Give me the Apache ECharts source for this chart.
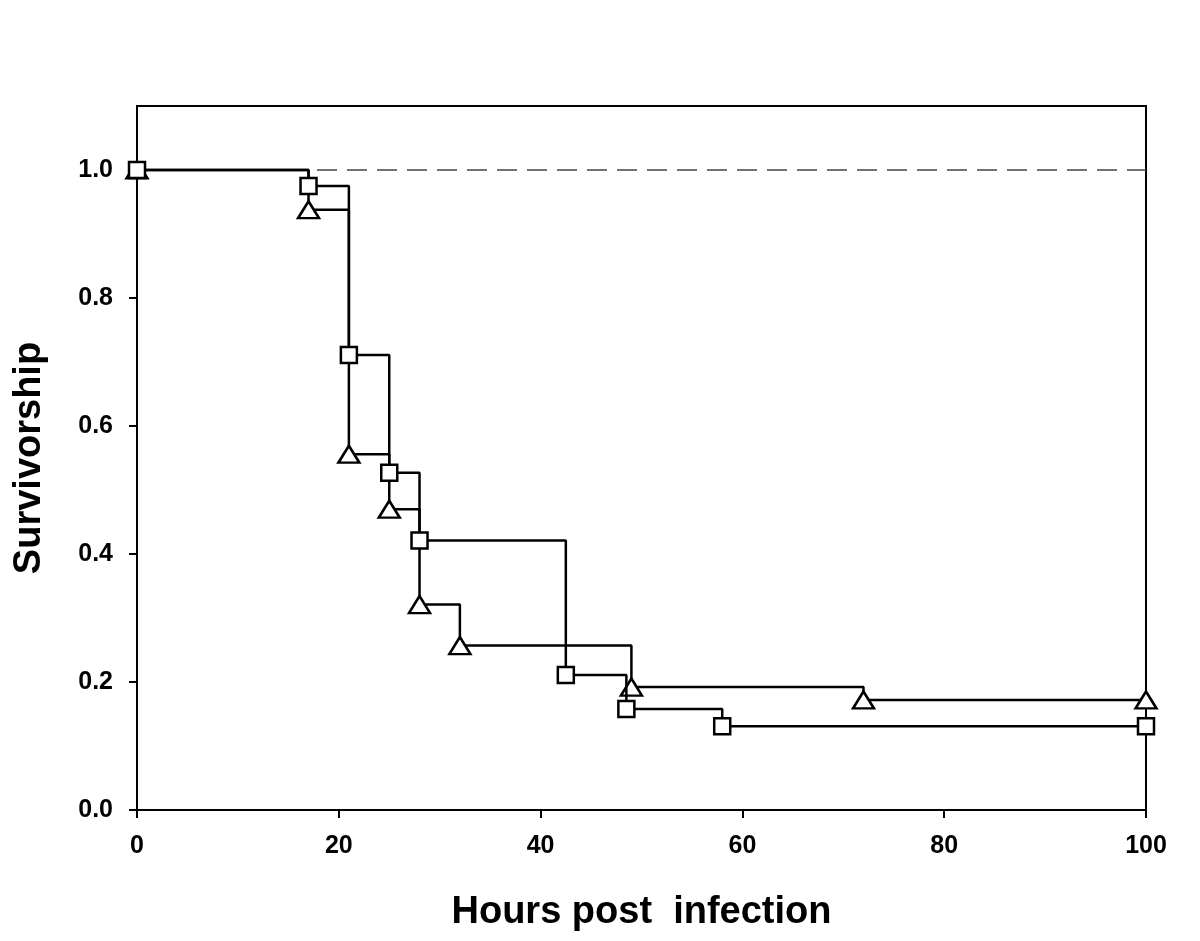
<!DOCTYPE html>
<html>
<head>
<meta charset="utf-8">
<script src="https://cdn.jsdelivr.net/npm/echarts@6/dist/echarts.min.js"></script>
<style>html,body{margin:0;padding:0;background:#fff}#c{width:1200px;height:941px}</style>
</head>
<body>
<div id="c"></div>
<script>
// Square group (Kaplan-Meier, hours, survivorship)
const squareHours = [0, 17, 21, 25, 28, 42.5, 48.5, 58, 100];
const squareSurv  = [1.0, 0.975, 0.711, 0.527, 0.421, 0.211, 0.158, 0.131, 0.131];
// Triangle group
const triHours = [0, 17, 21, 25, 28, 32, 49, 72, 100];
const triSurv  = [1.0, 0.938, 0.556, 0.470, 0.321, 0.257, 0.192, 0.172, 0.172];
// Reference line
const refLevel = 1.0;
const xTicks = [0, 20, 40, 60, 80, 100];
const yTicks = [0, 0.2, 0.4, 0.6, 0.8, 1.0];

const triData = triHours.map((h, i) => [h, triSurv[i]]);
const sqData = squareHours.map((h, i) => [h, squareSurv[i]]);

const font = '"Liberation Sans", Arial, sans-serif';
const chart = echarts.init(document.getElementById('c'), null, {renderer: 'canvas'});
chart.setOption({
  animation: false,
  backgroundColor: '#fff',
  grid: {left: 137, right: 54, top: 106, bottom: 131, outerBoundsMode: 'none', containLabel: false,
    show: true, borderColor: '#000', borderWidth: 2, backgroundColor: 'transparent'},
  xAxis: {
    type: 'value', min: 0, max: 100, interval: 20,
    axisLine: {show: true, lineStyle: {color: '#000', width: 2}},
    axisTick: {show: true, inside: false, length: 8, lineStyle: {color: '#000', width: 2}, customValues: xTicks},
    axisLabel: {color: '#000', fontFamily: font, fontWeight: 'bold', fontSize: 25, margin: 24, customValues: xTicks},
    splitLine: {show: false},
    name: 'Hours post  infection', nameLocation: 'middle', nameGap: 84,
    nameTextStyle: {color: '#000', fontFamily: font, fontWeight: 'bold', fontSize: 38}
  },
  yAxis: {
    type: 'value', min: 0, max: 1.1, interval: 0.2,
    axisLine: {show: true, lineStyle: {color: '#000', width: 2}},
    axisTick: {show: true, inside: false, length: 8, lineStyle: {color: '#000', width: 2}, customValues: yTicks},
    axisLabel: {color: '#000', fontFamily: font, fontWeight: 'bold', fontSize: 25, margin: 24, customValues: yTicks,
      formatter: v => v.toFixed(1)},
    splitLine: {show: false},
    name: 'Survivorship', nameLocation: 'middle', nameGap: 88,
    nameTextStyle: {color: '#000', fontFamily: font, fontWeight: 'bold', fontSize: 38}
  },
  series: [
    {
      type: 'line', data: [[0, refLevel], [100, refLevel]], symbol: 'none', z: 1,
      lineStyle: {color: '#444', width: 1.5, type: [20, 10]}
    },
    {
      type: 'line', data: triData, step: 'end', symbol: 'triangle', symbolSize: [21, 17], z: 3,
      lineStyle: {color: '#000', width: 2.5},
      itemStyle: {color: '#fff', borderColor: '#000', borderWidth: 2.5}
    },
    {
      type: 'line', data: sqData, step: 'end', symbol: 'rect', symbolSize: 16, z: 4,
      lineStyle: {color: '#000', width: 2.5},
      itemStyle: {color: '#fff', borderColor: '#000', borderWidth: 2.5}
    }
  ]
});
</script>
</body>
</html>
